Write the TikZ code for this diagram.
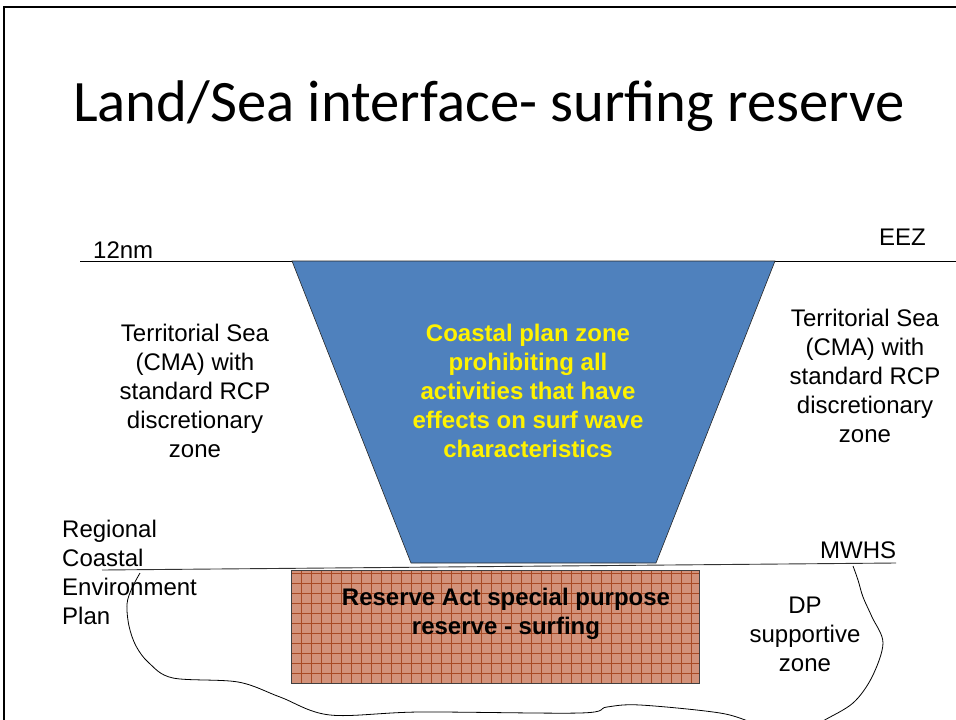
\documentclass[tikz,border=0pt]{standalone}
\usepackage{fontspec}
\setmainfont{Liberation Sans}
\newfontfamily\titlefont{Carlito}
\definecolor{seablue}{HTML}{4F81BD}
\definecolor{reservefill}{HTML}{D2927A}
\definecolor{reservegrid}{HTML}{A84A24}
\tikzset{
	lbl/.style={align=center, inner sep=0pt, font=\fontsize{24}{29}\selectfont},
	boldlbl/.style={lbl, font=\fontsize{24}{29}\selectfont\bfseries},
}

\begin{document}
\begin{tikzpicture}[x=1pt,y=-1pt]
	\useasboundingbox (0,0) rectangle (956,720);
	\clip (0,0) rectangle (956,720);

	\draw[line width=2.5pt] (4,725) -- (4,7) -- (960,7);
	\node[anchor=base west, inner sep=0pt, font=\titlefont\fontsize{58.7}{60}\selectfont] (title) at (73,121) {Land/Sea interface- surfing reserve};

	% sea limits
	\draw[line width=0.9pt] (80,261) -- (960,261);
	\filldraw[fill=seablue, draw=black!85, line width=0.6pt] (292,261) -- (775,261) -- (656,563) -- (411,563) -- cycle;
	\draw[line width=0.9pt, black!80] (102,570) -- (896,563);

	% reserve area
	\fill[reservefill] (291,570) rectangle (699,683);
	\begin{scope}
		\clip (291,570) rectangle (699,683);
		\foreach \gx in {291,301,...,701}
			\draw[reservegrid, line width=0.6pt] (\gx,570) -- (\gx,683);
		\foreach \gy in {573,583,...,683}
			\draw[reservegrid, line width=0.6pt] (291,\gy) -- (699,\gy);
	\end{scope}
	\draw[black!75, line width=0.8pt] (291,570) rectangle (699,683);

	% land
	\draw[line width=0.8pt] plot[smooth, tension=0.55] coordinates {(140,573) (132,588) (127,604) (129,626) (136,646) (149,663) (173,678) (238,682) (280,697) (330,715) (420,712) (580,713) (607,707) (640,705) (720,713) (757,724) (800,735) (823,721) (853,703) (872,677) (883,643) (872,617) (863,597) (858,580) (853,566)};

	\node[lbl, anchor=base west] (twelve) at (93,258) {12nm};
	\node[lbl, anchor=base west] (eez) at (879,245) {EEZ};
	\node[lbl, anchor=base west] (mwhs) at (820,558) {MWHS};
	\node[lbl, anchor=base] (tsleft) at (195,457) {Territorial Sea\\(CMA) with\\standard RCP\\discretionary\\zone};
	\node[lbl, anchor=base] (tsright) at (865,442) {Territorial Sea\\(CMA) with\\standard RCP\\discretionary\\zone};
	\node[boldlbl, anchor=base, text=yellow] (cpz) at (528,457) {Coastal plan zone\\prohibiting all\\activities that have\\effects on surf wave\\characteristics};
	\node[lbl, align=left, anchor=base west] (rcep) at (62,624) {Regional\\Coastal\\Environment\\Plan};
	\node[boldlbl, anchor=base] (reserve) at (506,634) {Reserve Act special purpose\\reserve - surfing};
	\node[lbl, anchor=base] (dp) at (805,671) {DP\\supportive\\zone};
\end{tikzpicture}
\end{document}
